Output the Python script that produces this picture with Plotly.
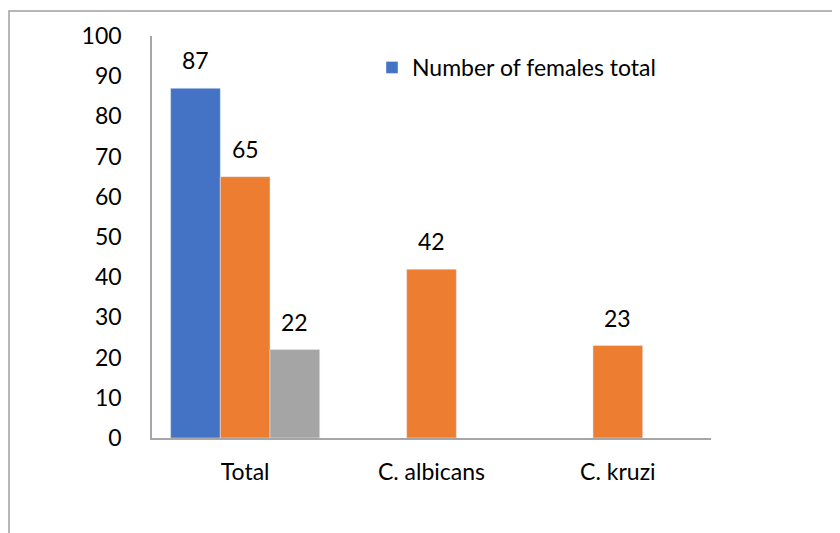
import plotly.graph_objects as go

categories = ["Total", "C. albicans", "C. kruzi"]
females_total = [87, None, None]
series_orange = [65, 42, 23]
series_gray = [22, None, None]
y_ticks = [0, 10, 20, 30, 40, 50, 60, 70, 80, 90, 100]

FONT = "Lato, Carlito, Calibri, sans-serif"
FS = 23

fig = go.Figure()
fig.add_trace(go.Bar(x=categories, y=females_total, name="Number of females total",
                     marker_color="#4472C4", showlegend=True))
fig.add_trace(go.Bar(x=categories, y=series_orange, name="Series 2",
                     marker_color="#ED7D31", showlegend=False))
fig.add_trace(go.Bar(x=categories, y=series_gray, name="Series 3",
                     marker_color="#A5A5A5", showlegend=False))

# data labels
offsets = [-1, 0, 1]
for k, vals in enumerate([females_total, series_orange, series_gray]):
    for i, v in enumerate(vals):
        if v is None:
            continue
        fig.add_annotation(x=i + offsets[k] * 0.2667 if i == 0 else i, y=v,
                           text=str(v), showarrow=False, yanchor="bottom",
                           yshift=12, font=dict(size=FS, color="#000000", family=FONT))

W, H = 840, 533
OFF = 8  # page body margin
ml, mr, mt, mb = 152 - OFF, 129 + OFF, 36 - OFF, 95 + OFF
pw, ph = W - ml - mr, H - mt - mb
def px(x):
    return (x - OFF - ml) / pw
def py(y):
    return (H - mb - (y - OFF)) / ph

# outer chart frame (only top and left edges are inside the picture)
fig.add_shape(type="rect", xref="paper", yref="paper", x0=px(9), x1=px(900), y0=py(600), y1=py(11),
              line=dict(color="#A0A0A0", width=1.5), fillcolor="rgba(0,0,0,0)", layer="above")

fig.update_layout(
    width=W, height=H,
    margin=dict(l=ml, r=mr, t=mt, b=mb),
    paper_bgcolor="white", plot_bgcolor="white",
    barmode="group", bargap=0.2, bargroupgap=0,
    font=dict(family=FONT, size=FS, color="#000000"),
    legend=dict(x=px(372), y=py(46), xanchor="left", yanchor="top",
                bgcolor="rgba(0,0,0,0)", font=dict(size=FS, family=FONT),
                itemwidth=30, tracegroupgap=0),
    showlegend=True,
)
fig.update_xaxes(type="category", showline=True, linecolor="#A6A6A6", linewidth=1.5,
                 showgrid=False, ticks="", tickfont=dict(size=FS, family=FONT),
                 ticklabelstandoff=13)
fig.update_yaxes(range=[0, 100], tickvals=y_ticks, showline=True, linecolor="#A6A6A6",
                 linewidth=1.5, showgrid=False, ticks="", zeroline=False,
                 tickfont=dict(size=FS, family=FONT), ticklabelstandoff=24)

fig.write_html("out.html")
